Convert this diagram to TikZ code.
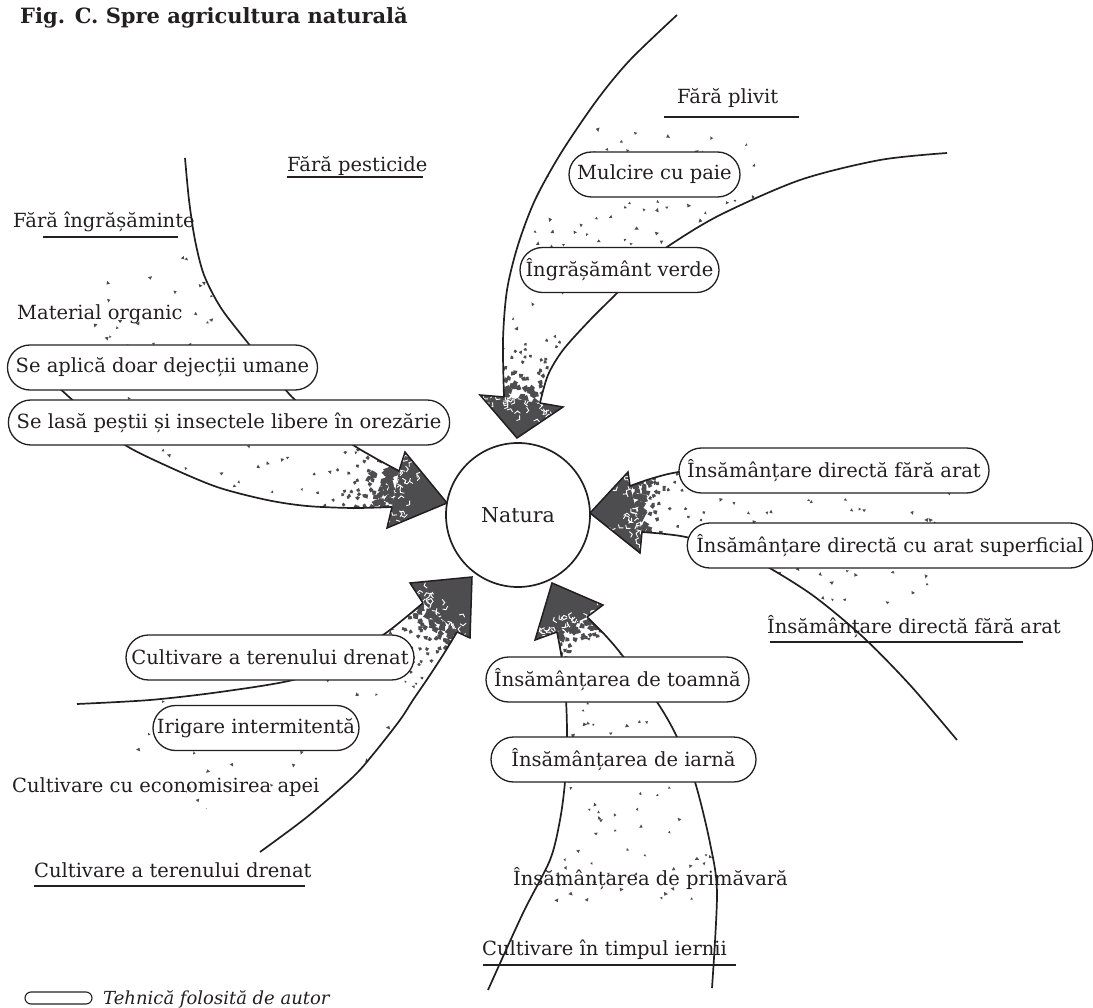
\documentclass[tikz,border=0pt]{standalone}
\usepackage{fontspec}
\setmainfont{DejaVu Serif}
\usetikzlibrary{shapes.misc}

\definecolor{ink}{HTML}{231F20}
\definecolor{grain}{HTML}{4D4D4F}

\newcommand\dgfont{\fontsize{19.5}{23}\selectfont}

% dense grain just behind an arrow head: #1,#2 base centre, #3 axis angle (towards tip),
% #4 half width, #5 samples, #6 decay length
\newcommand\densespeckles[6]{%
  \foreach \k in {1,...,#5}{%
    \pgfmathsetmacro\spkU{-85*rnd}%
    \pgfmathsetmacro\spkV{#4*(2*rnd-1)}%
    \pgfmathsetmacro\spkP{exp((\spkU)/#6)}%
    \pgfmathsetmacro\spkR{rnd}%
    \ifdim\spkR pt<\spkP pt
      \pgfmathsetmacro\spkX{#1+(\spkU)*cos(#3)-(\spkV)*sin(#3)}%
      \pgfmathsetmacro\spkY{#2+(\spkU)*sin(#3)+(\spkV)*cos(#3)}%
      \pgfmathsetmacro\spkA{360*rnd}%
      \pgfmathsetmacro\spkS{2.5+5*\spkP}%
      \fill[grain] (\spkX,\spkY) -- ++(\spkA:\spkS) -- ++(\spkA+100:\spkS) -- ++(\spkA+200:0.8*\spkS) -- cycle;
    \fi
  }%
}

% loose grain over a box: x range #1-#2, y range #3-#4, count #5
\newcommand\sparsespeckles[5]{%
  \foreach \k in {1,...,#5}{%
    \pgfmathsetmacro\spkX{#1+(#2-#1)*rnd}%
    \pgfmathsetmacro\spkY{#3+(#4-#3)*rnd}%
    \pgfmathsetmacro\spkA{360*rnd}%
    \pgfmathsetmacro\spkS{2.4+1.6*rnd}%
    \fill[grain] (\spkX,\spkY) -- ++(\spkA:\spkS) -- ++(\spkA+110:\spkS) -- cycle;
  }%
}

% white cracks at the base of a head
\newcommand\headcracks[5]{%
  \foreach \k in {1,...,#5}{%
    \pgfmathsetmacro\spkU{25*rnd*rnd}%
    \pgfmathsetmacro\spkV{#4*(2*rnd-1)}%
    \pgfmathsetmacro\spkX{#1+(\spkU)*cos(#3)-(\spkV)*sin(#3)}%
    \pgfmathsetmacro\spkY{#2+(\spkU)*sin(#3)+(\spkV)*cos(#3)}%
    \pgfmathsetmacro\spkA{360*rnd}%
    \draw[white, line width=0.9pt] (\spkX,\spkY) -- ++(\spkA:4) -- ++(\spkA+75:3.5);
  }%
}

\begin{document}
\begin{tikzpicture}[x=1pt,y=-1pt,
  rim/.style={draw=ink, line width=1.7pt},
  headline/.style={draw=ink, line width=1.5pt, line join=miter, miter limit=20},
  tech/.style={rounded rectangle, draw=ink, line width=1.3pt, fill=white,
    minimum height=45pt, inner xsep=6pt, inner ysep=0pt, font=\dgfont, text=ink},
  lab/.style={anchor=base west, inner sep=0pt, font=\dgfont, text=ink},
  uline/.style={draw=ink, line width=1.3pt}]
\useasboundingbox (0,0) rectangle (1093,1008);
\pgfmathsetseed{42}

% ---------- top arrow ----------
\begin{scope}
  \clip plot[smooth] coordinates {(677,15) (630,60) (597,100) (561,153) (535,200) (518,245) (507,290) (503,340) (504,397)}
    -- plot[smooth] coordinates {(540,403) (548,375) (563,350) (590,320) (617,293) (640,268) (670,245) (720,215) (800,180) (880,160) (947,153)} -- cycle;
  \sparsespeckles{480}{765}{128}{400}{170}
  \densespeckles{522}{400}{97.5}{45}{560}{20}
\end{scope}
\fill[grain] (504,397) -- (480,395) -- (517,438) -- (563,407) -- (540,403) -- cycle;
\begin{scope}
  \clip (504,397) -- (480,395) -- (517,438) -- (563,407) -- (540,403) -- cycle;
  \headcracks{522}{400}{97.5}{35}{30}
\end{scope}
\draw[headline] (504,397) -- (480,395) -- (517,438) -- (563,407) -- (540,403);
\draw[rim] plot[smooth] coordinates {(677,15) (630,60) (597,100) (561,153) (535,200) (518,245) (507,290) (503,340) (504,397)};
\draw[rim] plot[smooth] coordinates {(540,403) (548,375) (563,350) (590,320) (617,293) (640,268) (670,245) (720,215) (800,180) (880,160) (947,153)};

% ---------- upper left arrow ----------
\begin{scope}
  \clip plot[smooth] coordinates {(185,158) (189,200) (195,240) (204,275) (221,308) (248,343) (270,370) (292,397) (320,420) (350,443) (375,458) (399,471)}
    -- plot[smooth] coordinates {(392,507) (353,508) (307,506) (267,500) (217,487) (167,466) (125,445) (95,420) (68,396) (45,375)} -- cycle;
  \sparsespeckles{40}{400}{158}{510}{150}
  \densespeckles{395}{489}{14}{45}{560}{22}
\end{scope}
\fill[grain] (399,471) -- (405,452) -- (447,503) -- (387,528) -- (392,507) -- cycle;
\begin{scope}
  \clip (399,471) -- (405,452) -- (447,503) -- (387,528) -- (392,507) -- cycle;
  \headcracks{395}{489}{14}{35}{30}
\end{scope}
\draw[headline] (399,471) -- (405,452) -- (447,503) -- (387,528) -- (392,507);
\draw[rim] plot[smooth] coordinates {(185,158) (189,200) (195,240) (204,275) (221,308) (248,343) (270,370) (292,397) (320,420) (350,443) (375,458) (399,471)};
\draw[rim] plot[smooth] coordinates {(392,507) (353,508) (307,506) (267,500) (217,487) (167,466) (125,445) (95,420) (68,396) (45,375)};

% ---------- right arrow ----------
\begin{scope}
  \clip plot[smooth] coordinates {(985,470) (900,469) (800,468) (700,470) (673,473) (650,479) (630,486)}
    -- plot[smooth] coordinates {(642,532) (665,534) (690,538) (740,553) (773,570) (815,597) (863,637) (910,685) (957,740)} -- cycle;
  \sparsespeckles{640}{960}{495}{605}{70}
  \densespeckles{636}{509}{175}{40}{500}{15}
\end{scope}
\fill[grain] (630,486) -- (628,472) -- (590,513) -- (640,553) -- (642,532) -- cycle;
\begin{scope}
  \clip (630,486) -- (628,472) -- (590,513) -- (640,553) -- (642,532) -- cycle;
  \headcracks{636}{509}{175}{35}{30}
\end{scope}
\draw[headline] (630,486) -- (628,472) -- (590,513) -- (640,553) -- (642,532);
\draw[rim] plot[smooth] coordinates {(985,470) (900,469) (800,468) (700,470) (673,473) (650,479) (630,486)};
\draw[rim] plot[smooth] coordinates {(642,532) (665,534) (690,538) (740,553) (773,570) (815,597) (863,637) (910,685) (957,740)};

% ---------- lower left arrow ----------
\begin{scope}
  \clip plot[smooth] coordinates {(77,704) (150,700) (220,692) (293,680) (340,662) (383,635) (405,618) (423,603)}
    -- plot[smooth] coordinates {(457,632) (443,655) (428,678) (413,700) (400,720) (375,752) (353,777) (307,817) (260,852)} -- cycle;
  \sparsespeckles{130}{460}{600}{852}{90}
  \densespeckles{440}{618}{-50}{40}{500}{18}
\end{scope}
\fill[grain] (423,603) -- (410,583) -- (472,577) -- (470,638) -- (457,632) -- cycle;
\begin{scope}
  \clip (423,603) -- (410,583) -- (472,577) -- (470,638) -- (457,632) -- cycle;
  \headcracks{440}{618}{-50}{35}{30}
\end{scope}
\draw[headline] (423,603) -- (410,583) -- (472,577) -- (470,638) -- (457,632);
\draw[rim] plot[smooth] coordinates {(77,704) (150,700) (220,692) (293,680) (340,662) (383,635) (405,618) (423,603)};
\draw[rim] plot[smooth] coordinates {(457,632) (443,655) (428,678) (413,700) (400,720) (375,752) (353,777) (307,817) (260,852)};

% ---------- bottom arrow ----------
\begin{scope}
  \clip plot[smooth] coordinates {(488,990) (523,913) (550,860) (560,820) (565,782) (567,740) (566,700) (562,660) (557,632)}
    -- plot[smooth] coordinates {(587,617) (605,635) (622,655) (657,702) (677,737) (695,782) (710,843) (717,893) (712,988)} -- cycle;
  \sparsespeckles{488}{717}{620}{900}{120}
  \densespeckles{572}{624}{-113}{35}{500}{15}
\end{scope}
\fill[grain] (557,632) -- (535,640) -- (552,583) -- (603,605) -- (587,617) -- cycle;
\begin{scope}
  \clip (557,632) -- (535,640) -- (552,583) -- (603,605) -- (587,617) -- cycle;
  \headcracks{572}{624}{-113}{35}{30}
\end{scope}
\draw[headline] (557,632) -- (535,640) -- (552,583) -- (603,605) -- (587,617);
\draw[rim] plot[smooth] coordinates {(488,990) (523,913) (550,860) (560,820) (565,782) (567,740) (566,700) (562,660) (557,632)};
\draw[rim] plot[smooth] coordinates {(587,617) (605,635) (622,655) (657,702) (677,737) (695,782) (710,843) (717,893) (712,988)};

% ---------- centre ----------
\node[circle, draw=ink, line width=1.7pt, fill=white, minimum size=144pt, inner sep=0pt,
  font=\fontsize{20.5}{24}\selectfont, text=ink] (natura) at (518,515) {Natura};

% ---------- techniques used by the author ----------
\node[tech, minimum width=183pt] (mulci) at (654.5,174.5) {Mulcire cu paie};
\node[tech, minimum width=211pt] (verde) at (619.5,270) {Îngrășământ verde};
\node[tech, minimum width=305pt] (dejec) at (162.5,367.5) {Se aplică doar dejecții umane};
\node[tech, minimum width=438pt] (pesti) at (229,422.5) {Se lasă peștii și insectele libere în orezărie};
\node[tech, minimum width=322pt] (dir1) at (834,470.5) {Însămânțare directă fără arat};
\node[tech, minimum width=404pt] (dir2) at (890,545.5) {Însămânțare directă cu arat superficial};
\node[tech, minimum width=300pt] (dren) at (270,657.5) {Cultivare a terenului drenat};
\node[tech, minimum width=218pt] (irig) at (256,728) {Irigare intermitentă};
\node[tech, minimum width=275pt] (toam) at (617.5,679.5) {Însămânțarea de toamnă};
\node[tech, minimum width=277pt] (iarn) at (623.5,759.5) {Însămânțarea de iarnă};

% ---------- plain labels ----------
\node[anchor=base west, inner sep=0pt, text=ink, font=\bfseries\fontsize{21}{25}\selectfont] (title) at (20,24) {Fig. C. Spre agricultura naturală};
\node[lab] (pest) at (287,172) {Fără pesticide};
\draw[uline] (287,177) -- (423,177);
\node[lab] (ingr) at (13,228) {Fără îngrășăminte};
\draw[uline] (43,237) -- (178,237);
\node[lab] (mater) at (17,320) {Material organic};
\node[lab] (pliv) at (677,104) {Fără plivit};
\draw[uline] (664,117) -- (799,117);
\node[lab] (fara) at (767,633) {Însămânțare directă fără arat};
\draw[uline] (770,642) -- (1023,642);
\node[lab] (econ) at (12,792) {Cultivare cu economisirea apei};
\node[lab] (drenl) at (34,877) {Cultivare a terenului drenat};
\draw[uline] (34,886) -- (305,886);
\node[lab] (prim) at (513,885) {Însămânțarea de primăvară};
\node[lab] (iern) at (482,955) {Cultivare în timpul iernii};
\draw[uline] (483,965) -- (736,965);

% ---------- key ----------
\node[rounded rectangle, draw=ink, line width=1.1pt, minimum width=67pt, minimum height=12pt, inner sep=0pt] (keybox) at (58.5,998) {};
\node[anchor=base west, inner sep=0pt, text=ink, font=\itshape\fontsize{18}{22}\selectfont] (keytext) at (103,1004) {Tehnică folosită de autor};
\end{tikzpicture}
\end{document}
